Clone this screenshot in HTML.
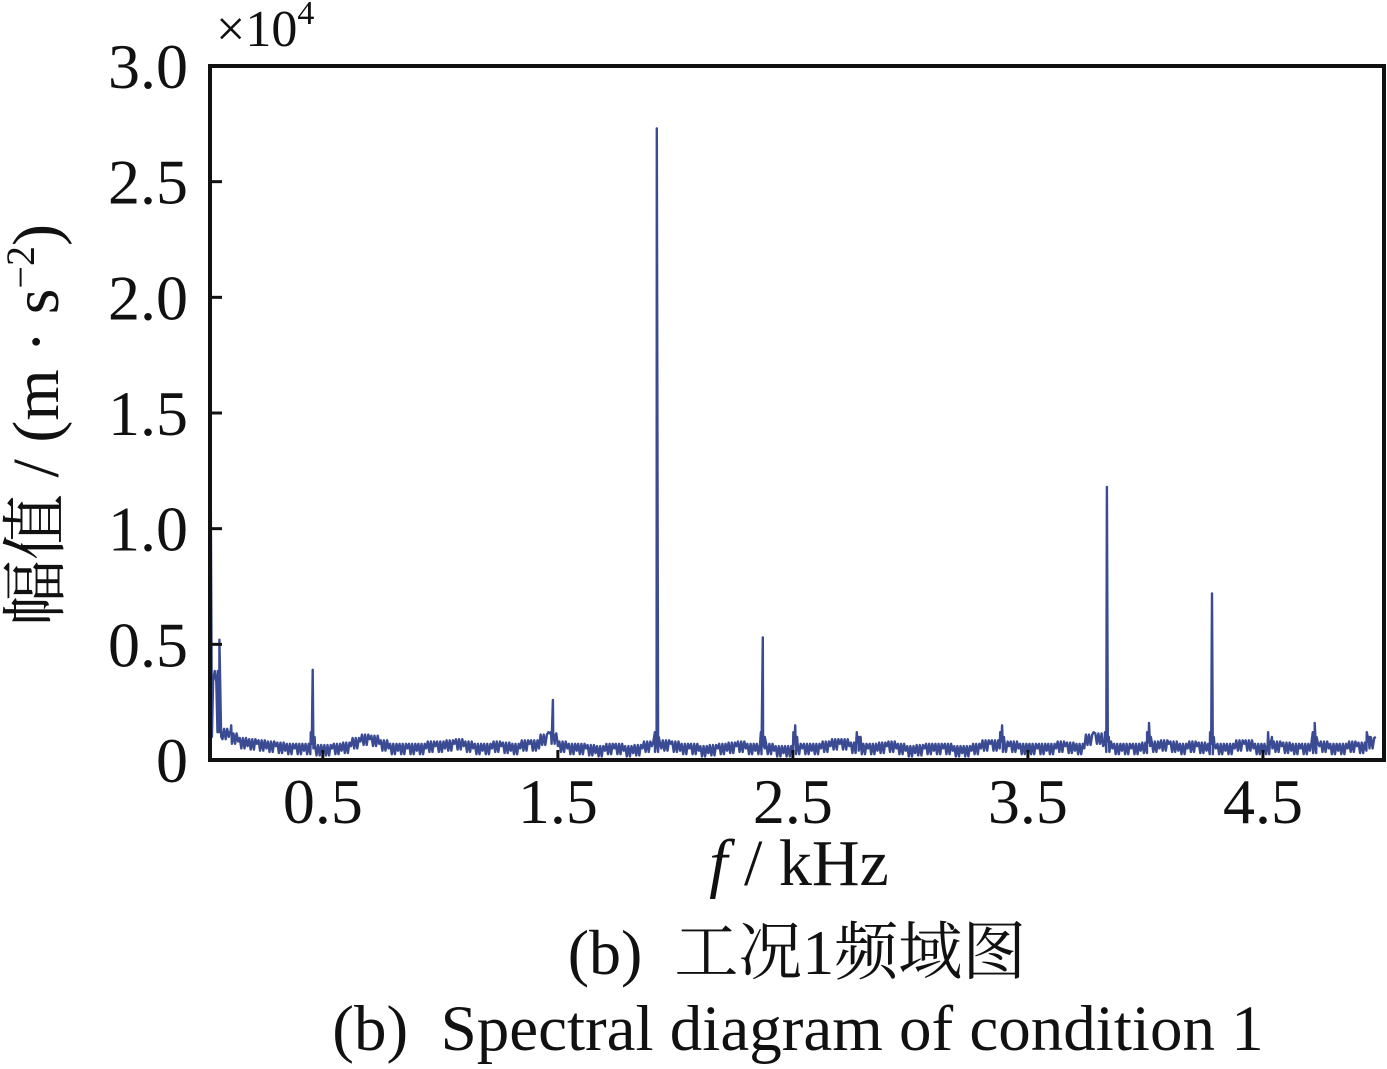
<!DOCTYPE html>
<html><head><meta charset="utf-8"><style>
body{margin:0;background:#fff;}
svg text{font-family:"Liberation Serif","Noto Serif CJK SC",serif;fill:#111;}
</style></head><body>
<svg width="1387" height="1064" viewBox="0 0 1387 1064">
<g id="plot"></g>
<g id="axes"></g>
<text x="216" y="46" font-size="52">×10<tspan dy="-22" font-size="34">4</tspan></text>
<text transform="translate(58,425) rotate(-90)" text-anchor="middle" font-size="66">幅值 / (m · s<tspan dy="-24" font-size="40">−2</tspan><tspan dy="24">)</tspan></text>
<text x="799" y="885" text-anchor="middle" font-size="66"><tspan font-style="italic">f</tspan> / kHz</text>
<text x="797" y="974" text-anchor="middle" font-size="64" xml:space="preserve">(b)  工况1频域图</text>
<text x="798" y="1050" text-anchor="middle" font-size="65" xml:space="preserve">(b)  Spectral diagram of condition 1</text>
</svg>
<script>
const xTicks=[0.5,1.5,2.5,3.5,4.5];
const xTickLabels=["0.5","1.5","2.5","3.5","4.5"];
const yTicks=[0,0.5,1.0,1.5,2.0,2.5,3.0];
const yTickLabels=["0","0.5","1.0","1.5","2.0","2.5","3.0"];
// baseline noise sampled every 0.04 kHz from 0.02 (x10^4)
const noiseStep=0.04;
const noise=[0.6,0.12,0.1,0.08,0.06,0.07,0.05,0.06,0.04,0.05,0.04,0.05,0.03,0.05,0.04,0.06,0.08,0.09,0.07,0.05,0.04,0.05,0.04,0.05,0.06,0.05,0.07,0.06,0.05,0.04,0.05,0.06,0.04,0.05,0.07,0.05,0.12,0.06,0.05,0.04,0.05,0.03,0.04,0.05,0.04,0.03,0.05,0.06,0.05,0.07,0.04,0.05,0.04,0.03,0.05,0.04,0.06,0.05,0.04,0.05,0.04,0.03,0.04,0.05,0.04,0.05,0.06,0.07,0.06,0.04,0.05,0.04,0.06,0.05,0.04,0.03,0.05,0.04,0.05,0.04,0.03,0.04,0.05,0.07,0.05,0.06,0.05,0.04,0.05,0.04,0.05,0.06,0.04,0.05,0.12,0.06,0.05,0.04,0.05,0.04,0.06,0.05,0.07,0.04,0.05,0.06,0.04,0.05,0.04,0.05,0.07,0.05,0.04,0.05,0.06,0.04,0.05,0.04,0.06,0.05,0.04,0.05,0.06,0.04,0.1];
const peakFreqs=[0.02,0.06,0.11,0.457,1.479,1.921,2.372,2.51,2.78,3.39,3.836,4.015,4.283,4.53,4.72,4.95];
const peakAmps=[1.8,0.52,0.15,0.39,0.26,2.73,0.53,0.15,0.1,0.15,1.18,0.16,0.72,0.08,0.16,0.1];
const X0=210,X1=1384,Y0=760,Y1=66,fmin=0.02,fmax=5.015,amax=3.0;
const xs=f=>X0+(f-fmin)/(fmax-fmin)*(X1-X0);
const ys=a=>Y0-a/amax*(Y0-Y1);
const NS="http://www.w3.org/2000/svg";
const plot=document.getElementById('plot'),axes=document.getElementById('axes');
function mk(t,a,p){const e=document.createElementNS(NS,t);for(const k in a)e.setAttribute(k,a[k]);p.appendChild(e);return e;}
let pts=[];
for(let i=0;i<noise.length;i++){const f=fmin+i*noiseStep;pts.push([f,noise[i]]);
 if(i+1<noise.length){const m=(noise[i]+noise[i+1])/2;
  for(let k=1;k<6;k++){pts.push([f+noiseStep*k/6,Math.max(0.01,m+(k%2?0.025:-0.02))]);}}}
for(let j=0;j<peakFreqs.length;j++){const f=peakFreqs[j];pts.push([f-0.008,0.12]);pts.push([f,peakAmps[j]]);pts.push([f+0.008,0.1]);}
pts=pts.filter(p=>p[0]>=fmin&&p[0]<=fmax).sort((a,b)=>a[0]-b[0]);
const line=mk('polyline',{points:pts.map(p=>xs(p[0]).toFixed(1)+','+ys(p[1]).toFixed(1)).join(' '),fill:'none',stroke:'#3a4b93','stroke-width':2.4,'stroke-linejoin':'round'},plot);


const fr=mk('rect',{x:X0,y:Y1,width:X1-X0,height:Y0-Y1,fill:'none',stroke:'#111','stroke-width':4},axes);


xTicks.forEach((v,i)=>{const x=xs(v);
 mk('line',{x1:x,x2:x,y1:Y0,y2:Y0-10,stroke:'#111','stroke-width':3},axes);
 const t=mk('text',{x:x,y:823,'text-anchor':'middle','font-size':64},axes);t.textContent=xTickLabels[i];
 
 });
yTicks.forEach((v,i)=>{const y=ys(v);
 mk('line',{x1:X0,x2:X0+12,y1:y,y2:y,stroke:'#111','stroke-width':3},axes);
 const t=mk('text',{x:188,y:y+22,'text-anchor':'end','font-size':64},axes);t.textContent=yTickLabels[i];
 
 });
</script>
</body></html>
